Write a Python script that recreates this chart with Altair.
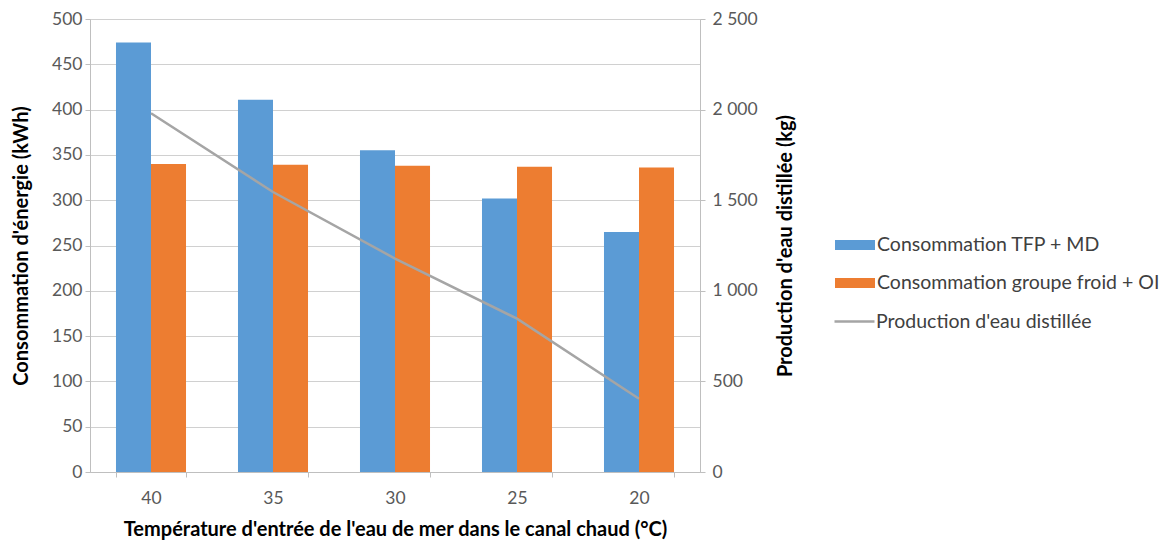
import altair as alt
import pandas as pd

temperatures = ["40", "35", "30", "25", "20"]
conso_tfp_md = [474, 411, 355, 302, 265]
conso_froid_oi = [340, 339, 338, 337, 336]
production = [1980, 1545, 1178, 846, 404]
bar_series = ["Consommation TFP + MD", "Consommation groupe froid + OI"]
line_series = ["Production d'eau distillée"]
bar_colors = ["#5B9BD5", "#ED7D31"]
line_colors = ["#A5A5A5"]
left_ticks = [0, 50, 100, 150, 200, 250, 300, 350, 400, 450, 500]
right_ticks = [0, 500, 1000, 1500, 2000, 2500]

bars_df = pd.DataFrame({
    "temp": temperatures * 2,
    "series": [bar_series[0]] * 5 + [bar_series[1]] * 5,
    "value": conso_tfp_md + conso_froid_oi,
})
line_df = pd.DataFrame({
    "temp": temperatures,
    "series": line_series * 5,
    "value": production,
})

FONT = "Lato"
LABEL_COLOR = "#595959"
AXIS_COLOR = "#BFBFBF"

axis_common = dict(
    labelFont=FONT,
    titleFont=FONT,
    labelFontSize=17.5,
    labelColor=LABEL_COLOR,
    titleFontSize=20,
    titleFontWeight="bold",
    titleColor="#000000",
    domainColor=AXIS_COLOR,
    tickColor=AXIS_COLOR,
    tickSize=5,
)

x_enc = alt.X(
    "temp:N",
    sort=temperatures,
    scale=alt.Scale(paddingInner=0.426, paddingOuter=0.213),
    axis=alt.Axis(
        title="Température d'entrée de l'eau de mer dans le canal chaud (°C)",
        tickBand="extent",
        labelAngle=0,
        labelPadding=12,
        titlePadding=13,
        grid=False,
        **axis_common,
    ),
)

legend_common = dict(
    title=None,
    orient="none",
    labelFont=FONT,
    labelFontSize=19.5,
    labelColor="#404040",
    labelLimit=400,
    symbolSize=1600,
    symbolOpacity=1,
)

bars = alt.Chart(bars_df).mark_bar().encode(
    x=x_enc,
    xOffset=alt.XOffset("series:N", sort=bar_series, scale=alt.Scale(paddingInner=0, paddingOuter=0)),
    y=alt.Y(
        "value:Q",
        scale=alt.Scale(domain=[0, 500], nice=False),
        axis=alt.Axis(
            title="Consommation d'énergie (kWh)",
            values=left_ticks,
            labelPadding=3,
            titlePadding=20,
            grid=True,
            gridColor="#D0D0D0",
            gridWidth=1.2,
            **axis_common,
        ),
    ),
    fill=alt.Fill(
        "series:N",
        scale=alt.Scale(domain=bar_series, range=bar_colors),
        legend=alt.Legend(
            legendX=745,
            legendY=206,
            labelOffset=2,
            rowPadding=8,
            symbolType="M-1,-0.25H1V0.25H-1Z",
            symbolStrokeWidth=0,
            **legend_common,
        ),
    ),
)

line = alt.Chart(line_df).mark_line(strokeWidth=2.5).encode(
    x=alt.X("temp:N", sort=temperatures),
    y=alt.Y(
        "value:Q",
        scale=alt.Scale(domain=[0, 2500], nice=False),
        axis=alt.Axis(
            title="Production d'eau distillée (kg)",
            orient="right",
            titleAngle=270,
            values=right_ticks,
            labelExpr="replace(format(datum.value, ','), ',', ' ')",
            labelPadding=7,
            titlePadding=38,
            grid=False,
            **axis_common,
        ),
    ),
    stroke=alt.Stroke(
        "series:N",
        scale=alt.Scale(domain=line_series, range=line_colors),
        legend=alt.Legend(
            legendX=743,
            legendY=281,
            labelOffset=0,
            symbolType="M-1,0H1",
            symbolStrokeWidth=2.5,
            **legend_common,
        ),
    ),
)

chart = (
    alt.layer(bars, line)
    .resolve_scale(y="independent")
    .properties(
        width=610,
        height=453,
        autosize=alt.AutoSizeParams(type="none"),
        padding={"left": 82, "top": 11, "right": 460, "bottom": 70},
    )
    .configure_view(stroke=None)
    .configure(background="white")
)

chart.save("out.html", embed_options={"renderer": "svg", "actions": False})
